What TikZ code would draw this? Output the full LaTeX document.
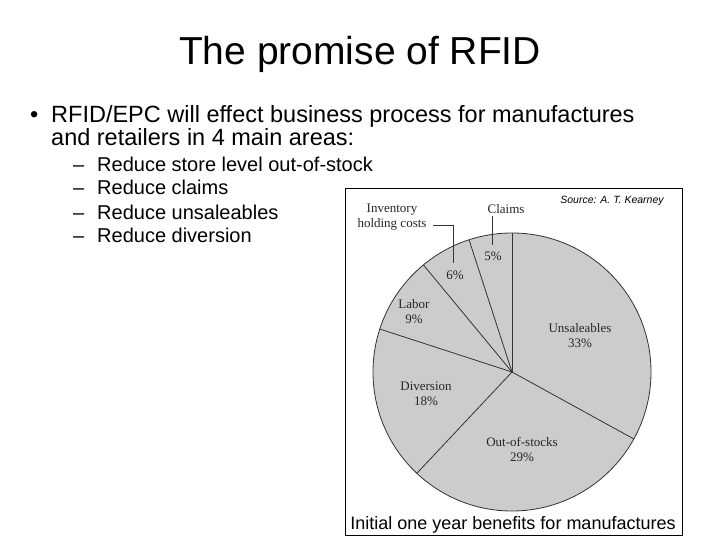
\documentclass[tikz,border=0pt]{standalone}
\usepackage{fontspec}
\setmainfont{Liberation Sans}
\newfontfamily\serf{Liberation Serif}
\begin{document}
\begin{tikzpicture}[x=1pt,y=-1pt,
  body/.style={anchor=base west,font=\fontsize{23.5}{26}\selectfont,inner sep=0},
  sub/.style={anchor=base west,font=\fontsize{20}{22}\selectfont,inner sep=0},
  plab/.style={font=\serf\fontsize{13}{15}\selectfont,align=center,text=black!85,inner sep=0},
  wedge/.style={draw=black!80,line width=0.8pt}]
\useasboundingbox (0,0) rectangle (720,540);
\node[anchor=base,font=\fontsize{39}{42}\selectfont,inner sep=0] (title) at (360,65) {The promise of RFID};
\node[body] (b0) at (30,123) {\textbullet};
\node[body] (l1) at (51,123) {RFID/EPC will effect business process for manufactures};
\node[body] (l2) at (51,146) {and retailers in 4 main areas:};
\node[sub] (d1) at (73,172) {--};
\node[sub] (s1) at (97,172) {Reduce store level out-of-stock};
\node[sub] (d2) at (73,195) {--};
\node[sub] (s2) at (97,195) {Reduce claims};
\node[sub] (d3) at (73,219) {--};
\node[sub] (s3) at (97,219) {Reduce unsaleables};
\node[sub] (d4) at (73,243) {--};
\node[sub] (s4) at (97,243) {Reduce diversion};
\node[draw=black,line width=0.8pt,fill=white,minimum width=337,minimum height=347,inner sep=0,anchor=north west] (box) at (345,188) {};
\coordinate (c) at (512,372);
\fill[black!20] (c) circle (139);
\foreach \a in {90,-28.8,-133.2,162,129.6,108}{\draw[wedge] (c) -- ++(-\a:139);}
\draw[wedge] (c) circle (139);
\node[plab] (inv) at (392,217) {Inventory\\holding costs};
\node[plab] (p6) at (455,275) {6\%};
\draw[black!80,line width=0.7pt] (433,225) -| (453,263);
\node[plab] (cl) at (506,209) {Claims};
\node[plab] (p5) at (493,256) {5\%};
\draw[black!80,line width=0.7pt] (492,216) -- (492,245);
\node[plab] (lab) at (414,312) {Labor\\9\%};
\node[plab] (div) at (426,394) {Diversion\\18\%};
\node[plab] (uns) at (580,336) {Unsaleables\\33\%};
\node[plab] (oos) at (522,450) {Out-of-stocks\\29\%};
\node[font=\itshape\fontsize{10.5}{12}\selectfont,inner sep=0] (src) at (612,201) {Source: A. T. Kearney};
\node[font=\fontsize{18}{20}\selectfont,inner sep=0] (cap) at (513,525) {Initial one year benefits for manufactures};
\end{tikzpicture}
\end{document}
